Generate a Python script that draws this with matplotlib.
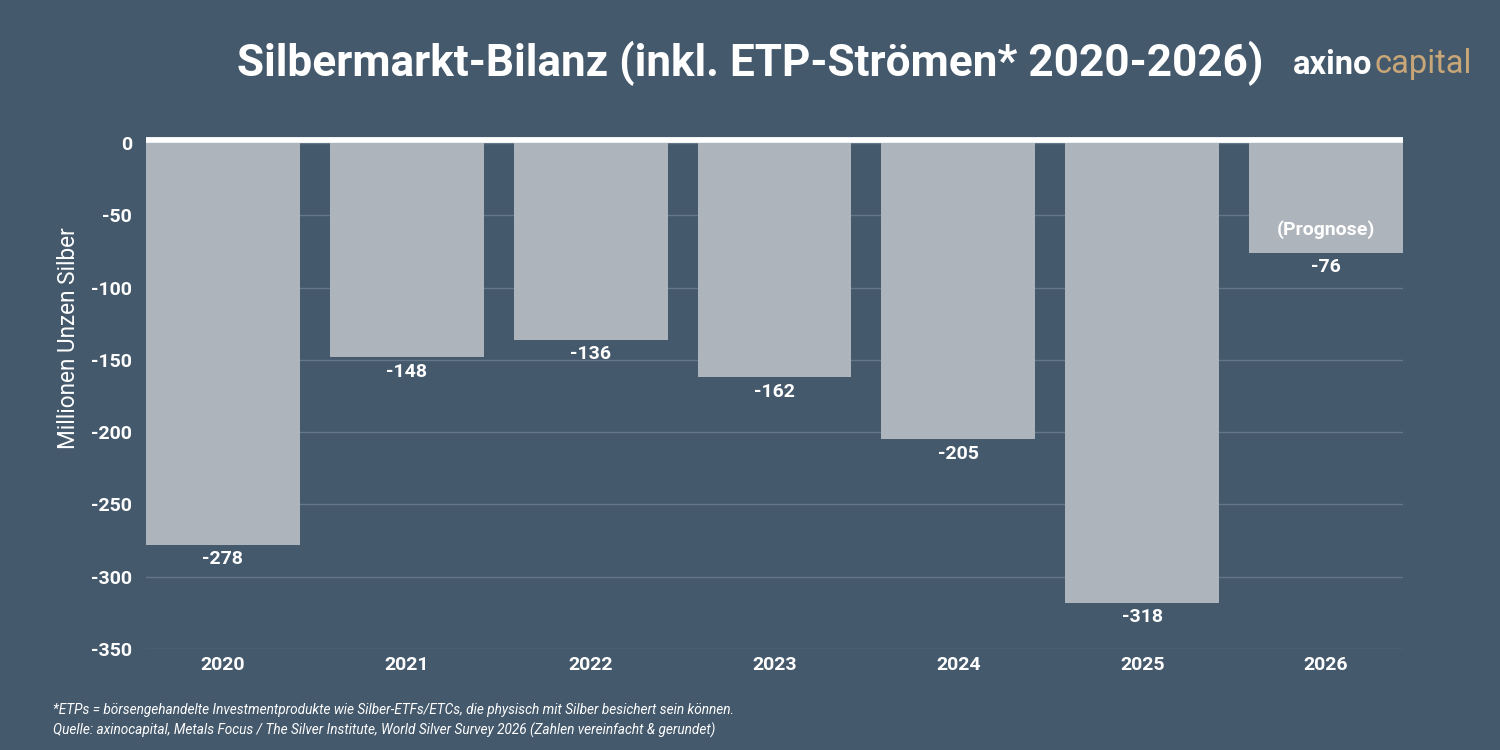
import matplotlib
matplotlib.use("Agg")
import matplotlib.pyplot as plt

plt.rcParams['font.family'] = ['Roboto', 'DejaVu Sans']

# Daten (Millionen Unzen Silber)
jahre = ['2020', '2021', '2022', '2023', '2024', '2025', '2026']
bilanz = [-278, -148, -136, -162, -205, -318, -76]
y_ticks = [0, -50, -100, -150, -200, -250, -300, -350]

BG = '#45596c'
BAR = '#aeb4bb'
GRID = '#64778a'
GOLD = '#c8a677'

fig = plt.figure(figsize=(15, 7.5), dpi=100, facecolor=BG)
ax = fig.add_axes([0.0973, 0.1347, 0.8380, 0.6746], facecolor=BG)

x = range(len(jahre))
breite = 0.837
ax.bar(x, bilanz, width=breite, color=BAR, zorder=2)

ax.set_ylim(-350, 0)
ax.set_xlim(-breite / 2, len(jahre) - 1 + breite / 2)
ax.set_yticks(y_ticks)
ax.set_yticklabels([str(v) for v in y_ticks])
ax.set_xticks(list(x))
ax.set_xticklabels(jahre)

ax.grid(axis='y', color=GRID, linewidth=1, zorder=1)
# weisse Nulllinie knapp oberhalb der Balken
ax.axhline(2.2, color='white', linewidth=4.2, zorder=3, clip_on=False,
           solid_capstyle='butt')
for s in ax.spines.values():
    s.set_visible(False)
ax.tick_params(length=0, colors='white', labelsize=14)
for lbl in ax.get_xticklabels() + ax.get_yticklabels():
    lbl.set_fontweight('bold')
ax.tick_params(axis='y', pad=10)
ax.tick_params(axis='x', pad=5)

ax.set_ylabel('Millionen Unzen Silber', color='white', fontsize=16.3)
ax.yaxis.set_label_coords(-0.0524, 0.615)

for xi, v in zip(x, bilanz):
    ax.annotate(str(v), (xi, v), xytext=(0, -4), textcoords='offset points',
                ha='center', va='top', color='white', fontsize=14,
                fontweight='bold', zorder=4)
ax.annotate('(Prognose)', (6, bilanz[6]), xytext=(0, 10), textcoords='offset points',
            ha='center', va='bottom', color='white', fontsize=14,
            fontweight='bold', zorder=4)

fig.text(0.5, 0.916, 'Silbermarkt-Bilanz (inkl. ETP-Strömen* 2020-2026)',
         ha='center', va='center', color='white', fontsize=31.8, fontweight='bold')
t1 = fig.text(0.862, 0.914, 'axino', ha='left', va='center', color='white',
              fontsize=23.5, fontweight='bold')
fig.canvas.draw()
bb = t1.get_window_extent()
fig.text(bb.x1 / fig.bbox.width + 0.001, 0.914, 'capital', ha='left', va='center',
         color=GOLD, fontsize=23.5, fontweight='normal')

fig.text(0.035, 0.053, '*ETPs = börsengehandelte Investmentprodukte wie Silber-ETFs/ETCs, '
         'die physisch mit Silber besichert sein können.',
         ha='left', va='center', color='white', fontsize=9.8, style='italic')
fig.text(0.035, 0.026, 'Quelle: axinocapital, Metals Focus / The Silver Institute, '
         'World Silver Survey 2026 (Zahlen vereinfacht & gerundet)',
         ha='left', va='center', color='white', fontsize=9.8, style='italic')

fig.savefig('out.png', dpi=100, facecolor=BG)
